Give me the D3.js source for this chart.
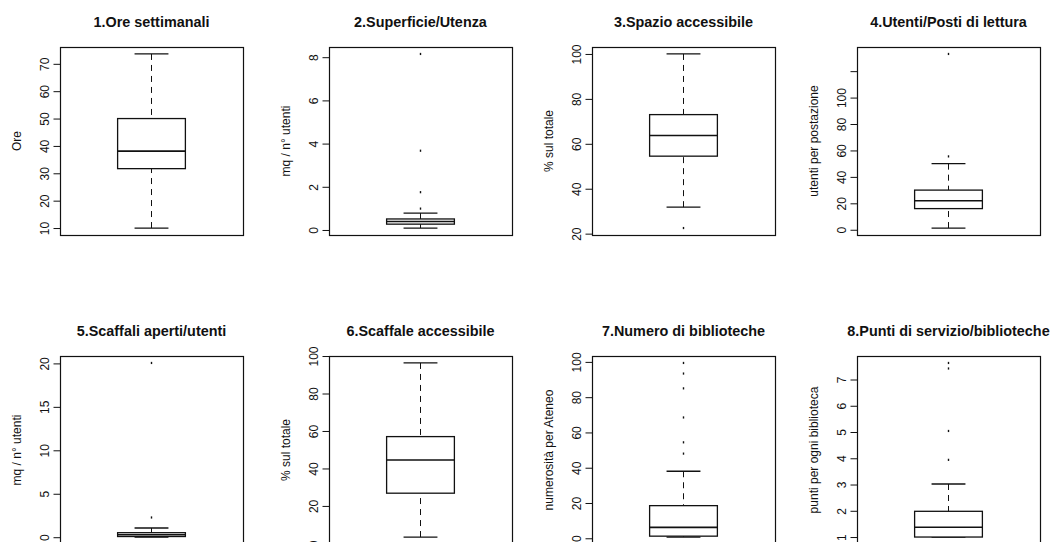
<!DOCTYPE html>
<html>
<head>
<meta charset="utf-8">
<script src="https://cdn.jsdelivr.net/npm/d3@7"></script>
<style>
  html, body { margin: 0; padding: 0; background: #fff; overflow: hidden; }
  svg { display: block; font-family: "Liberation Sans", Arial, sans-serif; }
</style>
</head>
<body>
<svg id="chart" width="1052" height="542"></svg>
<script>
// Indicator titles and y-axis labels
const titles = [
  "1.Ore settimanali", "2.Superficie/Utenza", "3.Spazio accessibile", "4.Utenti/Posti di lettura",
  "5.Scaffali aperti/utenti", "6.Scaffale accessibile", "7.Numero di biblioteche", "8.Punti di servizio/biblioteche"
];
const yLabels = [
  "Ore", "mq / n° utenti", "% sul totale", "utenti per postazione",
  "mq / n° utenti", "% sul totale", "numerosità per Ateneo", "punti per ogni biblioteca"
];

// Five-number summaries (lower whisker, Q1, median, Q3, upper whisker)
const lowWhisker  = [10,   0.09, 31.8, 1.3,  0.02, 3.4,  0.7,  1.0];
const quartile1   = [31.7, 0.27, 54.5, 16.0, 0.08, 26.8, 1.2,  1.0];
const medians     = [38.1, 0.39, 63.7, 22.0, 0.29, 44.5, 6.2,  1.37];
const quartile3   = [50.0, 0.51, 73.0, 30.0, 0.52, 57.0, 18.5, 1.98];
const highWhisker = [73.6, 0.78, 100,  50.0, 1.06, 96.3, 38.0, 3.02];

// Points beyond the whiskers
const outliers = [
  [],
  [0.99, 1.75, 3.67, 8.15],
  [22.5],
  [55.5, 133],
  [2.27, 20.05],
  [],
  [48.0, 54.4, 68.5, 85.0, 93.4, 99.4],
  [3.94, 5.04, 7.42, 7.63]
];

// Y-axis tick positions and their labels
const tickValues = [
  [10, 20, 30, 40, 50, 60, 70],
  [0, 2, 4, 6, 8],
  [20, 40, 60, 80, 100],
  [0, 20, 40, 60, 80, 100, 120],
  [0, 5, 10, 15, 20],
  [0, 20, 40, 60, 80, 100],
  [0, 20, 40, 60, 80, 100],
  [1, 2, 3, 4, 5, 6, 7]
];
const tickLabels = [
  ["10", "20", "30", "40", "50", "60", "70"],
  ["0", "2", "4", "6", "8"],
  ["20", "40", "60", "80", "100"],
  ["0", "20", "40", "60", "80", "100", ""],
  ["0", "5", "10", "15", "20"],
  ["0", "20", "40", "60", "80", "100"],
  ["0", "20", "40", "60", "80", "100"],
  ["1", "2", "3", "4", "5", "6", "7"]
];

// Panel grid geometry
const colLeft = [60, 329, 592, 857];
const rowTop = [47, 356];
const plotW = 183, plotH = 188;
const ink = "#111";

const svg = d3.select("#chart");

titles.forEach((title, i) => {
  const left = colLeft[i % 4];
  const top = rowTop[Math.floor(i / 4)];
  const g = svg.append("g");

  // y extent like R: full data range padded by 4% on each side
  const all = [lowWhisker[i], quartile1[i], medians[i], quartile3[i], highWhisker[i], ...outliers[i]];
  const lo = d3.min(all), hi = d3.max(all), pad = (hi - lo) * 0.04;
  const y = d3.scaleLinear().domain([lo - pad, hi + pad]).range([top + plotH, top]);
  const x = d3.scaleLinear().domain([0.46, 1.54]).range([left, left + plotW]);

  // y axis with rotated labels
  const axis = d3.axisLeft(y)
    .tickValues(tickValues[i])
    .tickFormat((d, k) => tickLabels[i][k])
    .tickSizeInner(7).tickSizeOuter(0).tickPadding(0);
  const ag = g.append("g").attr("transform", `translate(${left + 0.5},0)`).call(axis);
  ag.select(".domain")
    .attr("d", `M0,${y(tickValues[i][0])}V${y(tickValues[i][tickValues[i].length - 1])}`)
    .attr("stroke", ink);
  ag.selectAll(".tick line").attr("stroke", ink);
  ag.selectAll(".tick text")
    .attr("x", null).attr("dy", null)
    .attr("transform", "translate(-12,0) rotate(-90)")
    .attr("text-anchor", "middle")
    .attr("font-size", 12)
    .attr("font-family", "Liberation Sans, Arial, sans-serif")
    .attr("fill", ink);

  // axis title
  g.append("text")
    .attr("transform", `translate(${left - 39},${top + plotH / 2}) rotate(-90)`)
    .attr("text-anchor", "middle")
    .attr("font-size", 12)
    .attr("fill", ink)
    .text(yLabels[i]);

  // panel title
  g.append("text")
    .attr("x", left + plotW / 2)
    .attr("y", top - 20)
    .attr("text-anchor", "middle")
    .attr("font-size", 14.4)
    .attr("font-weight", "bold")
    .attr("fill", ink)
    .text(title);

  // whiskers (dashed), drawn from the staple toward the box
  const xc = x(1);
  [[lowWhisker[i], quartile1[i]], [highWhisker[i], quartile3[i]]].forEach(([a, b]) => {
    g.append("line")
      .attr("x1", xc).attr("x2", xc)
      .attr("y1", y(a)).attr("y2", y(b))
      .attr("stroke", ink).attr("stroke-width", 1)
      .attr("stroke-dasharray", "6,5");
  });

  // staples
  [lowWhisker[i], highWhisker[i]].forEach(v => {
    g.append("line")
      .attr("x1", x(0.9)).attr("x2", x(1.1))
      .attr("y1", y(v)).attr("y2", y(v))
      .attr("stroke", ink).attr("stroke-width", 1.3);
  });

  // box
  g.append("rect")
    .attr("x", x(0.8)).attr("width", x(1.2) - x(0.8))
    .attr("y", y(quartile3[i])).attr("height", y(quartile1[i]) - y(quartile3[i]))
    .attr("fill", "#fff").attr("stroke", ink).attr("stroke-width", 1.3);

  // median
  g.append("line")
    .attr("x1", x(0.8)).attr("x2", x(1.2))
    .attr("y1", y(medians[i])).attr("y2", y(medians[i]))
    .attr("stroke", ink).attr("stroke-width", 1.6);

  // outlying points
  g.selectAll("rect.out").data(outliers[i]).enter().append("rect")
    .attr("class", "out")
    .attr("x", xc - 0.7).attr("width", 1.4)
    .attr("y", d => y(d) - 1.1).attr("height", 2.2)
    .attr("fill", ink);

  // plot frame
  g.append("rect")
    .attr("x", left + 0.5).attr("y", top + 0.5)
    .attr("width", plotW).attr("height", plotH)
    .attr("fill", "none").attr("stroke", ink).attr("stroke-width", 1.2);
});
</script>
</body>
</html>
